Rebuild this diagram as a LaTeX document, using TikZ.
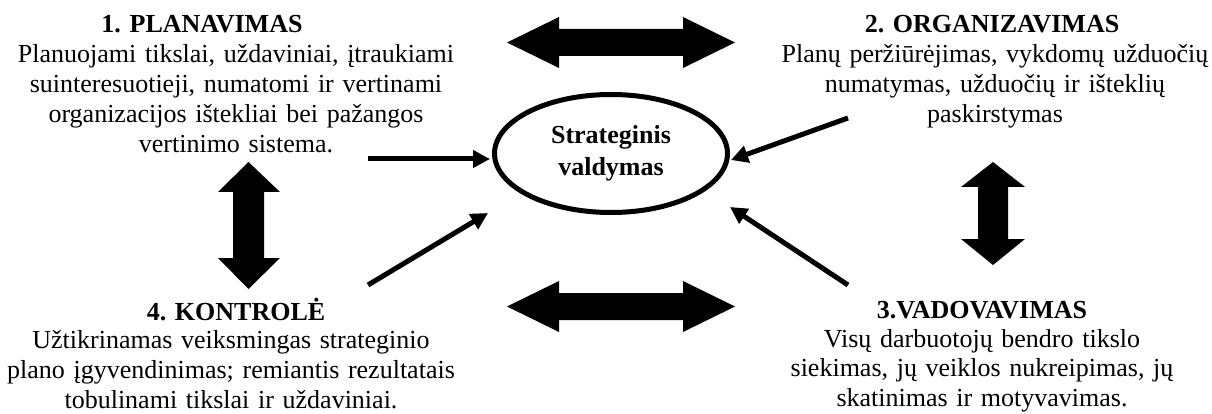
\documentclass[tikz,border=0pt]{standalone}
\usepackage{fontspec}
\setmainfont{Liberation Serif}
\usetikzlibrary{arrows.meta,shapes.geometric}
\begin{document}
\begin{tikzpicture}[x=1pt,y=-1pt,
  headtxt/.style={font=\fontsize{26}{30}\selectfont\bfseries, inner sep=0pt, anchor=base},
  bodytxt/.style={font=\fontsize{26}{29.8}\selectfont, inner sep=0pt, anchor=base, text width=470pt, align=center},
  bigarrow/.style={fill=black},
  thinarrow/.style={line width=5pt, -{Triangle[length=17pt,width=17pt]}},
  ]
\useasboundingbox (0,0) rectangle (1212,414);

% central ellipse
\node[ellipse, draw, line width=5pt, inner sep=0pt, minimum width=233pt, minimum height=118pt,
      align=center, font=\fontsize{26}{32}\selectfont\bfseries] (ell) at (611,153.5) {Strateginis\\valdymas};

% block 1
\node[headtxt] (h1) at (202,33) {1. PLANAVIMAS};
\node[bodytxt] (b1) at (236,63) {Planuojami tikslai, uždaviniai, įtraukiami\\suinteresuotieji, numatomi ir vertinami\\organizacijos ištekliai bei pažangos\\vertinimo sistema.};

% block 2
\node[headtxt] (h2) at (992,33) {2. ORGANIZAVIMAS};
\node[bodytxt] (b2) at (995,63) {Planų peržiūrėjimas, vykdomų užduočių\\numatymas, užduočių ir išteklių\\paskirstymas};

% block 3
\node[headtxt] (h3) at (982,318) {3.VADOVAVIMAS};
\node[bodytxt] (b3) at (982,347) {Visų darbuotojų bendro tikslo\\siekimas, jų veiklos nukreipimas, jų\\skatinimas ir motyvavimas.};

% block 4
\node[headtxt] (h4) at (236,320) {4. KONTROLĖ};
\node[bodytxt] (b4) at (231,348.5) {Užtikrinamas veiksmingas strateginio\\plano įgyvendinimas; remiantis rezultatais\\tobulinami tikslai ir uždaviniai.};

% big double arrows
\fill[bigarrow] (507,42.5) -- (559,17) -- (559,29) -- (683,29) -- (683,17) -- (735,42.5)
  -- (683,68) -- (683,56) -- (559,56) -- (559,68) -- cycle;
\fill[bigarrow] (507,306.5) -- (559,281) -- (559,293) -- (683,293) -- (683,281) -- (735,306.5)
  -- (683,332) -- (683,320) -- (559,320) -- (559,332) -- cycle;
\fill[bigarrow] (248.5,162) -- (280,192) -- (264,192) -- (264,258) -- (280,258) -- (248.5,289)
  -- (218,258) -- (233,258) -- (233,192) -- (218,192) -- cycle;
\fill[bigarrow] (993,162) -- (1025,187) -- (1008,187) -- (1008,239) -- (1025,239) -- (993,265)
  -- (961,239) -- (978,239) -- (978,187) -- (961,187) -- cycle;

% thin arrows
\coordinate (a1s) at (368,159);
\coordinate (a1e) at (490,159);
\coordinate (a2s) at (368,285);
\coordinate (a2e) at (488,213);
\coordinate (a3s) at (848,118);
\coordinate (a3e) at (731,160);
\coordinate (a4s) at (848,285);
\coordinate (a4e) at (730,207);
\draw[thinarrow] (a1s) -- (a1e);
\draw[thinarrow] (a2s) -- (a2e);
\draw[thinarrow] (a3s) -- (a3e);
\draw[thinarrow] (a4s) -- (a4e);
\end{tikzpicture}
\end{document}
